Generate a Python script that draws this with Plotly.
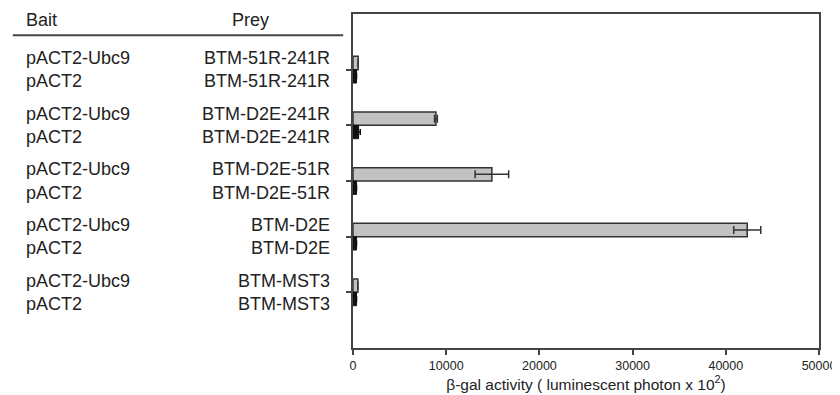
import plotly.graph_objects as go

baits = ["pACT2-Ubc9", "pACT2"]
preys = ["BTM-51R-241R", "BTM-D2E-241R", "BTM-D2E-51R", "BTM-D2E", "BTM-MST3"]
ubc9_values = [550, 8900, 14900, 42300, 520]
ubc9_errors = [0, 150, 1800, 1450, 0]
pact2_values = [380, 600, 380, 380, 380]
pact2_errors = [0, 180, 0, 0, 0]
x_ticks = [0, 10000, 20000, 30000, 40000, 50000]

positions = list(range(1, len(preys) + 1))
FONT = "Liberation Sans, Arial, sans-serif"
TXT = "#222222"

fig = go.Figure()
fig.add_trace(go.Bar(
    y=positions, x=ubc9_values, orientation="h", width=0.24, offset=-0.24,
    marker=dict(color="#c2c2c2", line=dict(color="#333333", width=1.5)),
    error_x=dict(type="data", array=ubc9_errors, color="#333333", thickness=1.5, width=4),
    showlegend=False,
))
fig.add_trace(go.Bar(
    y=positions, x=pact2_values, orientation="h", width=0.24, offset=0,
    marker=dict(color="#111111", line=dict(color="#111111", width=1)),
    error_x=dict(type="data", array=pact2_errors, color="#111111", thickness=1.5, width=3),
    showlegend=False,
))

ann = []
for i, prey in enumerate(preys):
    for j, bait in enumerate(baits):
        yy = positions[i] + (-0.21 if j == 0 else 0.21)
        ann.append(dict(xref="paper", yref="y", x=-0.706, y=yy, text=bait,
                        xanchor="left", yanchor="middle", showarrow=False,
                        font=dict(family=FONT, size=18, color=TXT)))
        ann.append(dict(xref="paper", yref="y", x=-0.045, y=yy, text=prey,
                        xanchor="right", yanchor="middle", showarrow=False,
                        font=dict(family=FONT, size=18, color=TXT)))
ann.append(dict(xref="paper", yref="y", x=-0.706, y=0.11, text="Bait",
                xanchor="left", yanchor="middle", showarrow=False,
                font=dict(family=FONT, size=18, color=TXT)))
ann.append(dict(xref="paper", yref="y", x=-0.219, y=0.11, text="Prey",
                xanchor="center", yanchor="middle", showarrow=False,
                font=dict(family=FONT, size=18, color=TXT)))

# The page body has an 8px default margin, so the figure is sized 832x387
# to fit the 840x395 window exactly.
fig.update_layout(
    width=832, height=387,
    margin=dict(l=345, r=17, t=4, b=47),
    paper_bgcolor="white", plot_bgcolor="white",
    barmode="overlay",
    annotations=ann,
    shapes=[dict(type="line", xref="paper", yref="y", x0=-0.73, x1=-0.021, y0=0.38, y1=0.38,
                 line=dict(color="#444444", width=2))],
    xaxis=dict(range=[0, 50000], tickvals=x_ticks, ticktext=[str(v) for v in x_ticks],
               showline=True, linecolor="#444444", linewidth=2, mirror=True,
               ticks="outside", ticklen=5, tickcolor="#444444", tickwidth=1.5,
               showgrid=False, zeroline=False, ticklabeloverflow="allow",
               tickfont=dict(family=FONT, size=12.5, color=TXT),
               title=dict(text="β-gal activity ( luminescent photon x 10<sup>2</sup>)",
                          font=dict(family=FONT, size=15.5, color=TXT), standoff=3)),
    yaxis=dict(range=[6, 0], tickvals=positions, showticklabels=False,
               showline=True, linecolor="#444444", linewidth=2, mirror=True,
               ticks="outside", ticklen=5, tickcolor="#444444", tickwidth=1.5,
               showgrid=False, zeroline=False),
)

fig.write_html("out.html")
